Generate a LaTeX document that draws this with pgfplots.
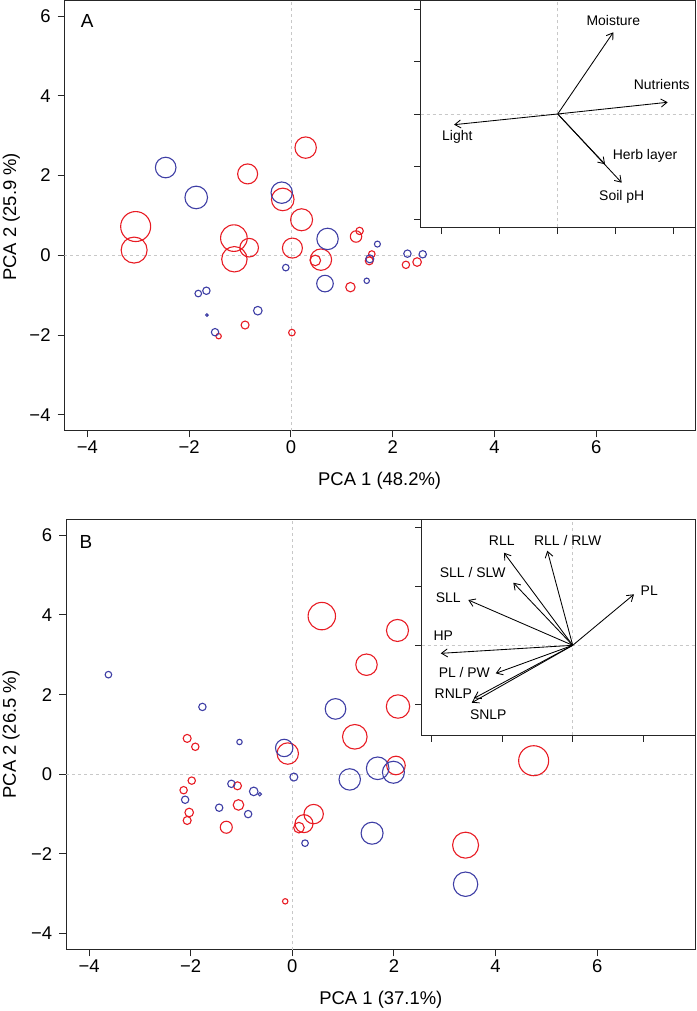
\documentclass[border=0pt]{standalone}
\usepackage{pgfplots}
\pgfplotsset{compat=1.18}
\usepackage{pgfplotstable}
\usepackage{fontspec}
\setmainfont{Liberation Sans}
\usetikzlibrary{arrows.meta}
\definecolor{cred}{RGB}{232,28,36}
\definecolor{cblue}{RGB}{62,62,165}
\definecolor{cgrid}{RGB}{200,200,200}

% Panel A
\pgfplotstableread{
x y r
0.29 2.70 10.7
-0.85 2.04 10.0
-0.16 1.40 11.3
0.21 0.89 11.0
-3.05 0.72 15.0
-3.08 0.13 13.0
-1.12 0.43 13.3
-0.82 0.19 9.3
-1.11 -0.10 12.7
0.03 0.18 10.0
0.59 -0.11 10.7
0.48 -0.13 5.3
1.28 0.47 5.7
1.35 0.61 3.7
1.59 0.03 3.3
1.54 -0.14 4.0
1.17 -0.80 4.7
2.26 -0.24 3.7
2.48 -0.17 4.3
-0.90 -1.75 4.0
0.02 -1.94 3.3
-1.42 -2.03 2.7
}\Ared
\pgfplotstableread{
x y r
-2.46 2.20 10.3
-1.86 1.45 11.3
-0.18 1.57 10.7
0.72 0.41 10.7
0.67 -0.71 8.3
-0.10 -0.31 3.3
1.70 0.28 3.0
1.55 -0.09 4.0
1.49 -0.64 2.7
2.29 0.04 3.7
2.59 0.025 3.7
-1.82 -0.96 3.3
-1.66 -0.89 3.7
-0.65 -1.39 4.3
-1.65 -1.50 1.3
-1.49 -1.93 3.7
}\Ablue
% Panel B
\pgfplotstableread{
x y r
0.58 3.97 13.7
2.07 3.61 11.0
1.46 2.75 10.7
2.08 1.70 11.7
1.23 0.94 12.3
-0.09 0.52 10.7
2.04 0.22 9.3
-2.07 0.90 4.0
-1.91 0.69 3.7
-1.98 -0.16 3.7
-2.14 -0.40 3.7
-2.03 -0.96 4.3
-2.07 -1.16 4.0
-1.08 -0.29 4.0
-1.06 -0.77 5.3
-1.30 -1.33 6.0
0.42 -1.00 9.7
0.23 -1.24 9.0
0.13 -1.34 5.3
-0.14 -3.19 2.7
4.75 0.34 15.0
3.41 -1.78 13.0
}\Bred
\pgfplotstableread{
x y r
-3.62 2.50 3.3
-1.77 1.69 3.7
-1.04 0.81 2.7
-0.16 0.66 8.7
0.03 -0.07 4.0
-2.11 -0.64 3.7
-1.20 -0.24 3.7
-0.76 -0.43 4.3
-0.64 -0.50 1.7
-1.44 -0.84 3.7
-0.87 -1.00 3.7
0.25 -1.73 3.3
0.85 1.64 10.3
1.13 -0.13 10.7
1.68 0.15 11.3
1.99 0.05 11.0
1.57 -1.48 11.0
3.41 -2.76 12.2
}\Bblue

\tikzset{
  vec/.style={black, line width=0.85bp, -{Straight Barb[length=6bp,width=8bp]}},
  vlab/.style={font=\fontsize{14}{16}\selectfont, inner sep=0pt},
  zline/.style={cgrid, line width=0.7bp, dash pattern=on 3bp off 3bp},
}
\pgfplotsset{
  frame/.style={
    scale only axis, anchor=south west,
    axis line style={line width=0.9bp, black!85},
    tick style={line width=0.9bp, black!85},
    tick align=outside, major tick length=6.6bp,
    xtick pos=bottom, ytick pos=left,
    every tick label/.append style={inner sep=0pt},
  },
  mainax/.style={frame,
    xmin=-4.452, xmax=7.94, ymin=-4.40, ymax=6.39,
    xtick={-4,-2,0,2,4,6}, xticklabels={−4,−2,0,2,4,6},
    ytick={-4,-2,0,2,4,6}, yticklabels={−4,−2,0,2,4,6},
    tick label style={font=\fontsize{18.5}{20}\selectfont},
    xticklabel style={anchor=center, yshift=-9.4bp},
    yticklabel style={anchor=east, xshift=-7bp},
    label style={font=\fontsize{18.5}{20}\selectfont},
    xlabel style={at={(axis description cs:0.5,-0.117)}, anchor=center},
  },
  insetax/.style={frame,
    axis background/.style={fill=white},
    xticklabels={}, yticklabels={},
  },
  pts/.style={scatter, only marks, mark=o, line width=1.1bp,
    scatter/use mapped color={draw=#1, fill=none},
    visualization depends on={\thisrow{r} \as \rr},
    scatter/@pre marker code/.append style={/tikz/mark size=\rr bp}},
}

\begin{document}
\begin{tikzpicture}[x=1bp,y=1bp]
% ---------- Panel A ----------
\begin{axis}[mainax, at={(64.3bp,580.3bp)}, width=630.7bp, height=430.2bp,
  xlabel={PCA 1 (48.2\%)}, ylabel={PCA 2 (25.9 \%)},
  ylabel style={at={(axis description cs:-0.084,0.497)}, anchor=center}]
  \draw[zline] (axis cs:0,-4.40) -- (axis cs:0,6.39);
  \draw[zline] (axis cs:-4.452,0) -- (axis cs:7.94,0);
  \addplot[pts=cred] table[x=x,y=y] {\Ared};
  \addplot[pts=cblue] table[x=x,y=y] {\Ablue};
\end{axis}
\node[font=\fontsize{19}{20}\selectfont, inner sep=0pt] at (87.3,990.3) {A};
\begin{axis}[insetax, at={(420.7bp,783.5bp)}, width=274.3bp, height=227bp,
  xmin=-2.366, xmax=2.371, ymin=-2.162, ymax=2.162,
  xtick={-2,-1,0,1,2}, ytick={-2,-1,0,1,2}]
  \draw[zline] (axis cs:0,-2.162) -- (axis cs:0,2.162);
  \draw[zline] (axis cs:-2.366,0) -- (axis cs:2.371,0);
  \addplot[vec] coordinates {(0,0) (0.96,1.556)};
  \addplot[vec] coordinates {(0,0) (1.90,0.223)};
  \addplot[vec] coordinates {(0,0) (-1.79,-0.204)};
  \addplot[vec] coordinates {(0,0) (0.817,-0.958)};
  \addplot[vec] coordinates {(0,0) (1.105,-1.309)};
  \node[vlab] at (axis cs:0.96,1.777) {Moisture};
  \node[vlab] at (axis cs:1.796,0.552) {Nutrients};
  \node[vlab] at (axis cs:-1.734,-0.432) {Light};
  \node[vlab] at (axis cs:1.508,-0.794) {Herb layer};
  \node[vlab] at (axis cs:1.105,-1.587) {Soil pH};
\end{axis}
% ---------- Panel B ----------
\begin{axis}[mainax, at={(66bp,61.3bp)}, width=629.7bp, height=430.4bp,
  xmin=-4.455, xmax=7.94, ymin=-4.404, ymax=6.40,
  xlabel={PCA 1 (37.1\%)}, ylabel={PCA 2 (26.5 \%)},
  ylabel style={at={(axis description cs:-0.0873,0.5)}, anchor=center}]
  \draw[zline] (axis cs:0,-4.404) -- (axis cs:0,6.40);
  \draw[zline] (axis cs:-4.455,0) -- (axis cs:7.94,0);
  \addplot[pts=cred] table[x=x,y=y] {\Bred};
  \addplot[pts=cblue] table[x=x,y=y] {\Bblue};
\end{axis}
\node[font=\fontsize{19}{20}\selectfont, inner sep=0pt] at (86,469.3) {B};
\begin{axis}[insetax, at={(421.7bp,276bp)}, width=274bp, height=215.7bp,
  xmin=-2.136, xmax=1.74, ymin=-1.52, ymax=2.136,
  xtick={-2,-1,0,1}, ytick={-1,0,1,2}]
  \draw[zline] (axis cs:0,-1.52) -- (axis cs:0,2.136);
  \draw[zline] (axis cs:-2.136,0) -- (axis cs:1.74,0);
  \addplot[vec] coordinates {(0,0) (-0.972,1.569)};
  \addplot[vec] coordinates {(0,0) (-0.359,1.603)};
  \addplot[vec] coordinates {(0,0) (-0.840,1.061)};
  \addplot[vec] coordinates {(0,0) (-1.477,0.768)};
  \addplot[vec] coordinates {(0,0) (0.867,0.864)};
  \addplot[vec] coordinates {(0,0) (-1.867,-0.136)};
  \addplot[vec] coordinates {(0,0) (-1.089,-0.475)};
  \addplot[vec] coordinates {(0,0) (-1.396,-0.898)};
  \addplot[vec] coordinates {(0,0) (-1.428,-0.973)};
  \node[vlab] at (axis cs:-1.004,1.773) {RLL};
  \node[vlab] at (axis cs:-0.071,1.773) {RLL / RLW};
  \node[vlab] at (axis cs:-1.414,1.231) {SLL / SLW};
  \node[vlab] at (axis cs:-1.760,0.814) {SLL};
  \node[vlab] at (axis cs:1.083,0.925) {PL};
  \node[vlab] at (axis cs:-1.830,0.158) {HP};
  \node[vlab] at (axis cs:-1.533,-0.464) {PL / PW};
  \node[vlab] at (axis cs:-1.689,-0.814) {RNLP};
  \node[vlab] at (axis cs:-1.194,-1.169) {SNLP};
\end{axis}
\pgfresetboundingbox
\path[use as bounding box] (0,0) rectangle (697,1011);
\end{tikzpicture}
\end{document}
